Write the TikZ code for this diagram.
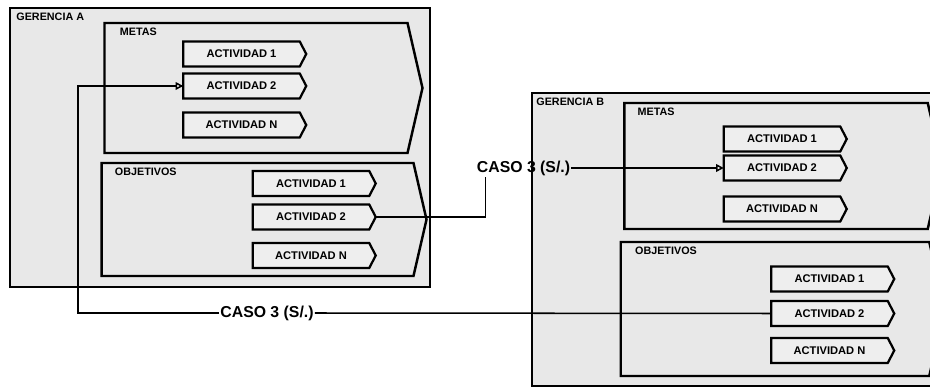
\documentclass[tikz,border=0pt]{standalone}
\usepackage{fontspec}
\setmainfont{Liberation Sans}
\usetikzlibrary{shapes.symbols, arrows.meta, positioning, calc}
\tikzstyle{gerencia} = [rectangle, draw, line width=1.9pt, fill=gray!18, outer sep=0pt, inner sep=0pt, minimum width=12.6cm, minimum height=8.37cm]
\tikzstyle{area} = [signal, signal to=east, signal pointer angle=154, draw, line width=2.1pt, fill=gray!18, outer sep=0pt, inner sep=0pt]
\tikzstyle{actividad} = [signal, signal to=east, signal pointer angle=125, draw, line width=1.9pt, fill=gray!13, outer sep=0pt, inner sep=0pt, minimum width=3.69cm, minimum height=0.75cm, font=\fontsize{9.5}{11}\selectfont\bfseries]
\tikzstyle{titulo} = [anchor=north west, inner sep=1pt, font=\fontsize{9.2}{11}\selectfont\bfseries]
\tikzstyle{caso} = [inner sep=1pt, font=\fontsize{13.5}{15}\selectfont\bfseries]
\tikzstyle{line} = [draw, line width=1.3pt]
\tikzstyle{arrowline} = [draw, line width=1.3pt, -{Triangle[open, length=6.5pt, width=6.5pt]}]

\begin{document}
\begin{tikzpicture}
    \clip (0,0) rectangle (27.9,-11.7);
    \fill[white] (0,0) rectangle (27.9,-11.7);

    % gerencia A
    \node[gerencia] at (6.6,-4.425) (gerA) {};
    \node[titulo] at ($(gerA.north west)+(0.15,-0.12)$) {GERENCIA A};

    \node[area, minimum width=9.54cm, minimum height=3.9cm] at (7.68,-2.64) (metA) {};
    \node[titulo] at ($(metA.north west)+(0.42,-0.12)$) {METAS};
    \node[actividad] at ($(metA.center)+(-0.435,1.02)$) (metA1) {ACTIVIDAD 1};
    \node[actividad] at ($(metA.center)+(-0.435,0.06)$) (metA2) {ACTIVIDAD 2};
    \node[actividad] at ($(metA.center)+(-0.435,-1.11)$) (metAN) {ACTIVIDAD N};

    \node[area, minimum width=9.75cm, minimum height=3.39cm] at (7.725,-6.585) (objA) {};
    \node[titulo] at ($(objA.north west)+(0.36,-0.12)$) {OBJETIVOS};
    \node[actividad] at ($(objA.center)+(1.605,1.08)$) (objA1) {ACTIVIDAD 1};
    \node[actividad] at ($(objA.center)+(1.605,0.075)$) (objA2) {ACTIVIDAD 2};
    \node[actividad] at ($(objA.center)+(1.605,-1.08)$) (objAN) {ACTIVIDAD N};

    % gerencia B
    \node[gerencia, minimum width=12.39cm, minimum height=8.79cm] at (22.155,-7.185) (gerB) {};
    \node[titulo] at ($(gerB.north west)+(0.09,-0.12)$) {GERENCIA B};

    \node[area, minimum width=9.54cm, minimum height=3.78cm] at (23.28,-4.98) (metB) {};
    \node[titulo] at ($(metB.north west)+(0.36,-0.12)$) {METAS};
    \node[actividad] at ($(metB.center)+(0.18,0.81)$) (metB1) {ACTIVIDAD 1};
    \node[actividad] at ($(metB.center)+(0.18,-0.06)$) (metB2) {ACTIVIDAD 2};
    \node[actividad] at ($(metB.center)+(0.18,-1.29)$) (metBN) {ACTIVIDAD N};

    \node[area, minimum width=9.72cm, minimum height=4.02cm] at (23.25,-9.27) (objB) {};
    \node[titulo] at ($(objB.north west)+(0.39,-0.1)$) {OBJETIVOS};
    \node[actividad] at ($(objB.center)+(1.635,0.9)$) (objB1) {ACTIVIDAD 1};
    \node[actividad] at ($(objB.center)+(1.635,-0.135)$) (objB2) {ACTIVIDAD 2};
    \node[actividad] at ($(objB.center)+(1.635,-1.245)$) (objBN) {ACTIVIDAD N};

    % casos
    \node[caso] at (15.705,-5.04) (caso1) {CASO 3 (S/.)};
    \node[caso] at (8.01,-9.39) (caso2) {CASO 3 (S/.)};
    \coordinate (giro) at (2.34,-9.39);

    \draw[line] (objA2.east) -| ([xshift=0.3cm]caso1.south west);
    \draw[arrowline] (caso1.east) -- (caso1.east -| metB2.west);
    \draw[line] (objB2.west) -- (caso2.east);
    \draw[arrowline] (caso2.west) -- (giro) |- (metA2.west);
\end{tikzpicture}
\end{document}
